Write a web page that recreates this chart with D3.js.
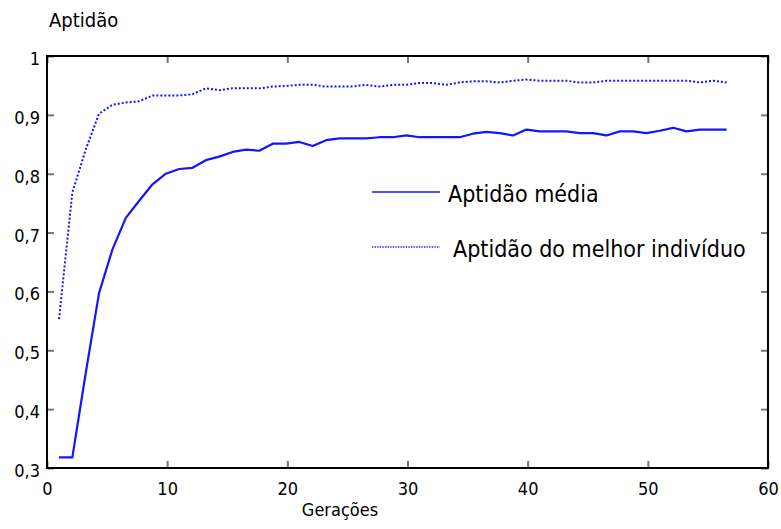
<!DOCTYPE html>
<html>
<head>
<meta charset="utf-8">
<script src="https://cdn.jsdelivr.net/npm/d3@7"></script>
<style>
  html, body { margin: 0; padding: 0; background: #fff; }
  svg { display: block; }
  text { font-family: Tahoma, "DejaVu Sans Condensed", "DejaVu Sans", sans-serif; fill: #000; }
</style>
</head>
<body>
<svg id="chart" width="781" height="529"></svg>
<script>
// Generation position of every sample
const generations = [1, 2.11, 3.22, 4.33, 5.44, 6.56, 7.67, 8.78, 9.89, 11, 12.11, 13.22, 14.33, 15.44,
  16.56, 17.67, 18.78, 19.89, 21, 22.11, 23.22, 24.33, 25.44, 26.56, 27.67, 28.78, 29.89, 31, 32.11,
  33.22, 34.33, 35.44, 36.56, 37.67, 38.78, 39.89, 41, 42.11, 43.22, 44.33, 45.44, 46.56, 47.67,
  48.78, 49.89, 51, 52.11, 53.22, 54.33, 55.44, 56.56];

// Mean fitness of the population
const aptidaoMedia = [0.318, 0.318, 0.461, 0.597, 0.671, 0.725, 0.754, 0.782, 0.800, 0.808, 0.810,
  0.823, 0.829, 0.837, 0.841, 0.839, 0.851, 0.851, 0.854, 0.847, 0.857, 0.860, 0.860, 0.860, 0.862,
  0.862, 0.865, 0.862, 0.862, 0.862, 0.862, 0.868, 0.871, 0.869, 0.865, 0.875, 0.872, 0.872, 0.872,
  0.869, 0.869, 0.865, 0.872, 0.872, 0.869, 0.873, 0.878, 0.872, 0.875, 0.875, 0.875];

// Fitness of the best individual
const aptidaoMelhor = [0.553, 0.768, 0.841, 0.902, 0.917, 0.921, 0.923, 0.933, 0.933, 0.933, 0.935,
  0.945, 0.942, 0.945, 0.945, 0.945, 0.948, 0.949, 0.951, 0.951, 0.948, 0.948, 0.948, 0.951, 0.948,
  0.951, 0.951, 0.954, 0.954, 0.951, 0.955, 0.957, 0.957, 0.955, 0.958, 0.960, 0.958, 0.958, 0.958,
  0.955, 0.955, 0.958, 0.958, 0.958, 0.958, 0.958, 0.958, 0.958, 0.955, 0.958, 0.955];

const xTicks = [0, 10, 20, 30, 40, 50, 60];
const yTicks = [0.3, 0.4, 0.5, 0.6, 0.7, 0.8, 0.9, 1];
const yTickLabels = ["0,3", "0,4", "0,5", "0,6", "0,7", "0,8", "0,9", "1"];
const seriesNames = ["Aptidão média", "Aptidão do melhor indivíduo"];

const svg = d3.select("#chart");
const L = 47, R = 768, T = 56, B = 468;
const blue = "#1414ff";

const x = d3.scaleLinear().domain([0, 60]).range([L, R]);
const y = d3.scaleLinear().domain([0.3, 1]).range([B, T]);

// Bottom axis: inward ticks, labels below
const gx = svg.append("g").attr("transform", `translate(0,${B})`)
  .call(d3.axisBottom(x).tickValues(xTicks).tickFormat(d3.format("d"))
    .tickSizeInner(-7).tickSizeOuter(0));
gx.select(".domain").remove();
gx.selectAll(".tick line").attr("stroke", "#777").attr("stroke-width", 2);
gx.selectAll(".tick text").attr("y", 27).attr("dy", null)
  .style("font-size", "18px").style("font-family", null);

// Top ticks
const gxt = svg.append("g").attr("transform", `translate(0,${T})`)
  .call(d3.axisTop(x).tickValues(xTicks).tickFormat("").tickSizeInner(-7).tickSizeOuter(0));
gxt.select(".domain").remove();
gxt.selectAll(".tick line").attr("stroke", "#777").attr("stroke-width", 2);

// Left axis
const gy = svg.append("g").attr("transform", `translate(${L},0)`)
  .call(d3.axisLeft(y).tickValues(yTicks).tickFormat((d, i) => yTickLabels[i])
    .tickSizeInner(-7).tickSizeOuter(0));
gy.select(".domain").remove();
gy.selectAll(".tick line").attr("stroke", "#777").attr("stroke-width", 2);
gy.selectAll(".tick text").attr("x", -7).attr("dy", null).attr("y", 8.5)
  .style("font-size", "18px").style("font-family", null);

// Right ticks
const gyr = svg.append("g").attr("transform", `translate(${R},0)`)
  .call(d3.axisRight(y).tickValues(yTicks).tickFormat("").tickSizeInner(-7).tickSizeOuter(0));
gyr.select(".domain").remove();
gyr.selectAll(".tick line").attr("stroke", "#777").attr("stroke-width", 2);

// Plot frame
svg.append("rect").attr("x", L).attr("y", T).attr("width", R - L).attr("height", B - T)
  .attr("fill", "none").attr("stroke", "#000").attr("stroke-width", 2);

// Series
const line = d3.line().x(d => x(d[0])).y(d => y(d[1]));
svg.append("path").datum(d3.zip(generations, aptidaoMelhor))
  .attr("d", line).attr("fill", "none").attr("stroke", blue)
  .attr("stroke-width", 2).attr("stroke-dasharray", "2,2");
svg.append("path").datum(d3.zip(generations, aptidaoMedia))
  .attr("d", line).attr("fill", "none").attr("stroke", blue)
  .attr("stroke-width", 2.2).attr("stroke-linejoin", "round");

// Legend
const lg = svg.append("g");
lg.append("line").attr("x1", 372).attr("x2", 440).attr("y1", 192).attr("y2", 192)
  .attr("stroke", blue).attr("stroke-width", 1.6);
lg.append("text").attr("x", 448).attr("y", 202).style("font-size", "23px").text(seriesNames[0]);
lg.append("line").attr("x1", 372).attr("x2", 440).attr("y1", 247).attr("y2", 247)
  .attr("stroke", blue).attr("stroke-width", 1.3).attr("stroke-dasharray", "1.3,1.3");
lg.append("text").attr("x", 453).attr("y", 257).style("font-size", "23px").text(seriesNames[1]);

// Axis titles
svg.append("text").attr("x", 49).attr("y", 27).style("font-size", "20px").text("Aptidão");
svg.append("text").attr("x", 340).attr("y", 516).attr("text-anchor", "middle")
  .style("font-size", "18px").text("Gerações");
</script>
</body>
</html>
